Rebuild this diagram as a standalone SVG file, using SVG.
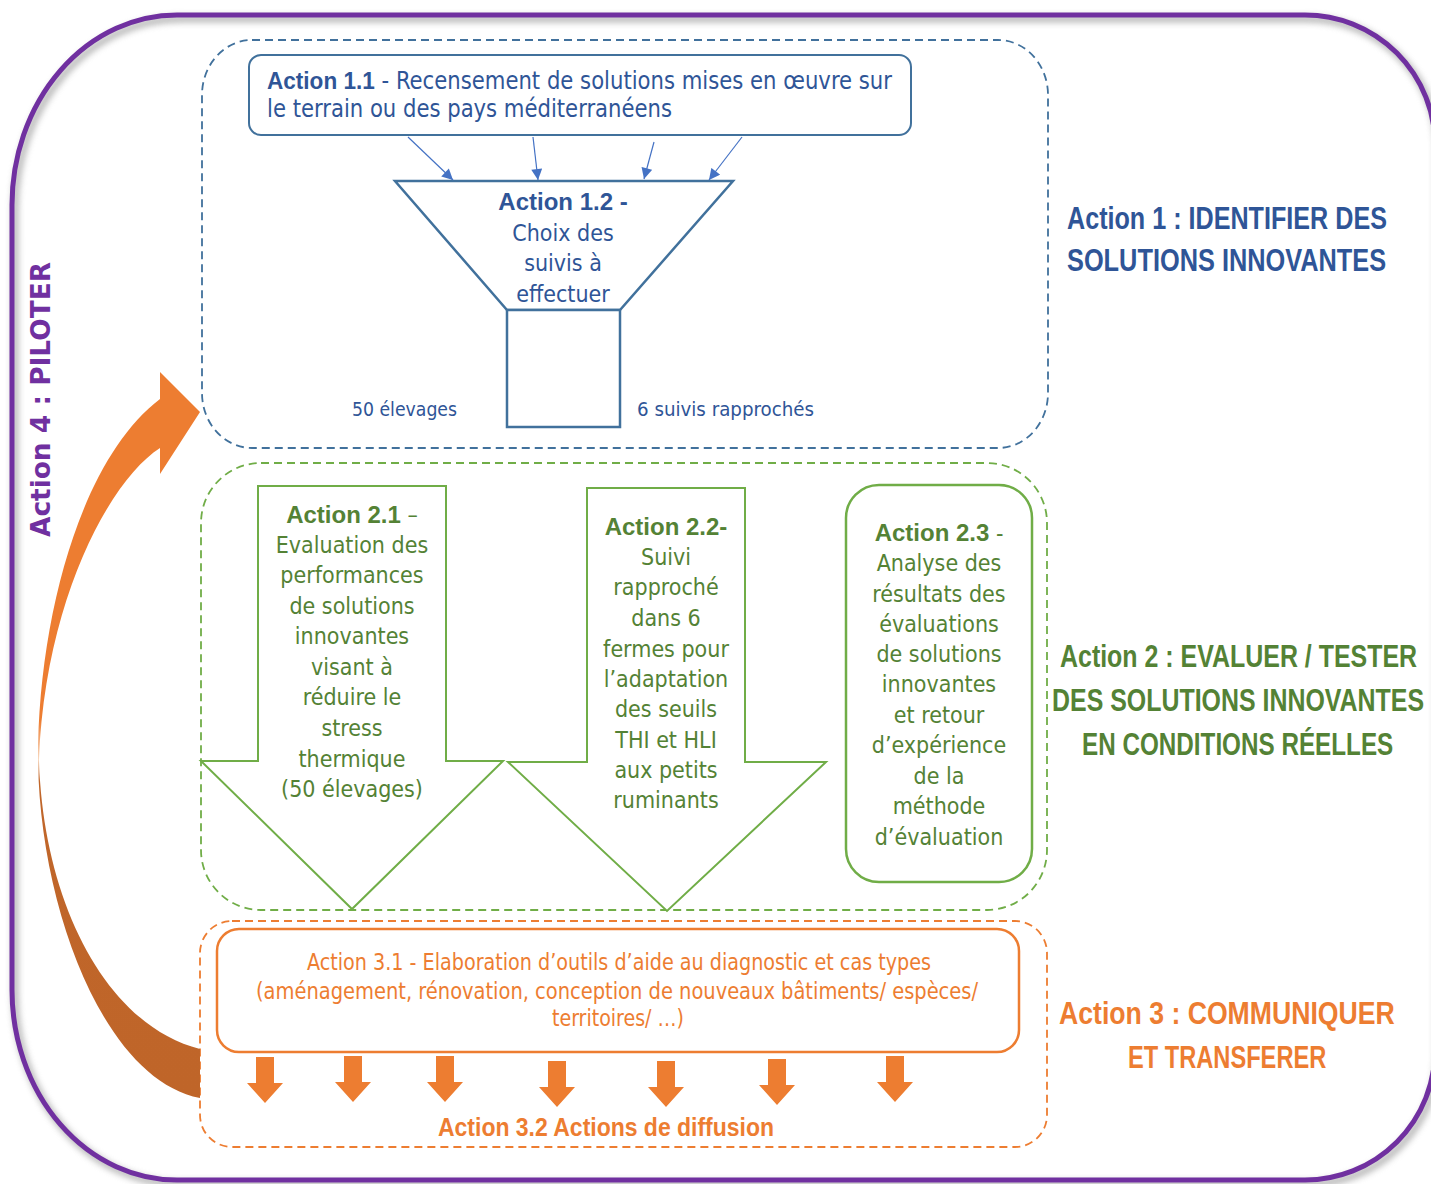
<svg xmlns="http://www.w3.org/2000/svg" width="1431" height="1184" viewBox="0 0 1431 1184">
<style>
.body{font-family:"DejaVu Sans Condensed","DejaVu Sans",sans-serif;font-stretch:condensed;}
.hd{font-family:"Liberation Sans",Arial,sans-serif;font-weight:bold;}
.blue{fill:#2F5597;}
.green{fill:#548235;}
.orange{fill:#ED7D31;}
.dash{fill:none;stroke-width:1.8;stroke-dasharray:8 5;}
.c{text-anchor:middle;}
</style>
<defs>
<marker id="ah" viewBox="0 0 10 10" refX="10" refY="5" markerWidth="12" markerHeight="11" markerUnits="userSpaceOnUse" orient="auto">
<path d="M0,0 L10,5 L0,10 Z" fill="#4472C4"/>
</marker>
<linearGradient id="bigArrow" gradientUnits="userSpaceOnUse" x1="0" y1="372" x2="0" y2="1098">
<stop offset="0" stop-color="#ED7D31"/>
<stop offset="0.48" stop-color="#ED7D31"/>
<stop offset="0.534" stop-color="#F8D9C0"/>
<stop offset="0.565" stop-color="#C0662A"/>
<stop offset="1" stop-color="#BF6529"/>
</linearGradient>
<filter id="sh" x="-5%" y="-5%" width="110%" height="110%">
<feGaussianBlur stdDeviation="3"/>
</filter>
<path id="sa" d="M -9,0 H 9 V 26 H 18 L 0,46 L -18,26 H -9 Z" fill="#ED7D31"/>
</defs>

<rect width="1431" height="1184" fill="#ffffff"/>

<!-- outer frame -->
<g id="frame">
<path d="M 177,15 L 1305,15 A 130,130 0 0 1 1435,145 L 1435,1050 A 130,130 0 0 1 1305,1180 L 177,1180 A 165,190 0 0 1 12,990 L 12,205 A 165,190 0 0 1 177,15 Z" fill="none" stroke="#8a8a8a" stroke-width="7" opacity="0.6" filter="url(#sh)" transform="translate(3,4)"/>
<path d="M 177,15 L 1305,15 A 130,130 0 0 1 1435,145 L 1435,1050 A 130,130 0 0 1 1305,1180 L 177,1180 A 165,190 0 0 1 12,990 L 12,205 A 165,190 0 0 1 177,15 Z" fill="none" stroke="#7030A0" stroke-width="5"/>
</g>

<!-- group boxes -->
<g id="group1">
<rect class="dash" x="202" y="40" width="846" height="408" rx="50" ry="55" stroke="#41719C"/>
<text class="hd blue" transform="translate(1067,229) scale(0.79,1)" font-size="32" textLength="405" lengthAdjust="spacingAndGlyphs">Action 1 : IDENTIFIER DES</text>
<text class="hd blue" transform="translate(1067,271) scale(0.79,1)" font-size="32" textLength="404" lengthAdjust="spacingAndGlyphs">SOLUTIONS INNOVANTES</text>
</g>
<g id="group2">
<rect class="dash" x="201" y="463" width="846" height="447" rx="60" stroke="#70AD47"/>
<text class="hd green" transform="translate(1060,667) scale(0.79,1)" font-size="32" textLength="452" lengthAdjust="spacingAndGlyphs">Action 2 : EVALUER / TESTER</text>
<text class="hd green" transform="translate(1052,711) scale(0.79,1)" font-size="32" textLength="471" lengthAdjust="spacingAndGlyphs">DES SOLUTIONS INNOVANTES</text>
<text class="hd green" transform="translate(1082,755) scale(0.79,1)" font-size="32" textLength="394" lengthAdjust="spacingAndGlyphs">EN CONDITIONS RÉELLES</text>
</g>
<g id="group3">
<rect class="dash" x="200" y="921" width="847" height="226" rx="32" stroke="#ED7D31"/>
<text class="hd orange" transform="translate(1059,1024) scale(0.79,1)" font-size="32" textLength="425" lengthAdjust="spacingAndGlyphs">Action 3 : COMMUNIQUER</text>
<text class="hd orange" transform="translate(1128,1068) scale(0.79,1)" font-size="32" textLength="251" lengthAdjust="spacingAndGlyphs">ET TRANSFERER</text>
</g>

<!-- Action 4 -->
<g id="action4">
<path d="M 160,399 L 160,372 L 200,412 L 160,474 L 160,448 C 110,480 45,600 39,760 C 43,900 105,1025 200,1049 L 200,1098 C 105,1080 40,910 38,760 C 38,620 80,460 160,399 Z" fill="url(#bigArrow)"/>
<text x="0" y="0" transform="translate(50,537) rotate(-90)" font-family="'DejaVu Sans',Verdana,sans-serif" font-weight="bold" font-size="26" fill="#7030A0" textLength="275" lengthAdjust="spacingAndGlyphs">Action 4 : PILOTER</text>
</g>

<!-- Action 1.1 -->
<g id="action11">
<rect x="249" y="55" width="662" height="80" rx="12" fill="#ffffff" stroke="#41719C" stroke-width="2"/>
<text class="body blue" x="267" y="89" font-size="24" textLength="625" lengthAdjust="spacingAndGlyphs"><tspan class="hd" font-size="23">Action 1.1</tspan> - Recensement de solutions mises en œuvre sur</text>
<text class="body blue" x="267" y="117" font-size="24" textLength="405" lengthAdjust="spacingAndGlyphs">le terrain ou des pays méditerranéens</text>
</g>

<!-- Action 1.2 funnel -->
<g id="action12">
<polygon points="395,181 733,181 620,310 507,310" fill="#ffffff" stroke="#41719C" stroke-width="2.5"/>
<rect x="507" y="310" width="113" height="117" fill="#ffffff" stroke="#41719C" stroke-width="2.5"/>
<text class="hd blue c" x="563" y="210" font-size="24">Action 1.2 -</text>
<text class="body blue c" x="563" y="241" font-size="23">Choix des</text>
<text class="body blue c" x="563" y="271" font-size="23">suivis à</text>
<text class="body blue c" x="563" y="302" font-size="23">effectuer</text>
</g>
<g id="label50">
<text class="body blue" x="352" y="416" font-size="20" textLength="105" lengthAdjust="spacingAndGlyphs">50 élevages</text>
</g>
<g id="label6">
<text class="body blue" x="637" y="416" font-size="20" textLength="177" lengthAdjust="spacingAndGlyphs">6 suivis rapprochés</text>
</g>

<!-- Action 2.1 -->
<g id="action21">
<polygon points="258,486 446,486 446,761 503,761 352,909 201,761 258,761" fill="#ffffff" stroke="#70AD47" stroke-width="2"/>
<text class="body green c" x="352" y="523" font-size="23"><tspan class="hd" font-size="24">Action 2.1</tspan> –</text>
<text class="body green c" x="352" y="553" font-size="23">Evaluation des</text>
<text class="body green c" x="352" y="583" font-size="23">performances</text>
<text class="body green c" x="352" y="614" font-size="23">de solutions</text>
<text class="body green c" x="352" y="644" font-size="23">innovantes</text>
<text class="body green c" x="352" y="675" font-size="23">visant à</text>
<text class="body green c" x="352" y="705" font-size="23">réduire le</text>
<text class="body green c" x="352" y="736" font-size="23">stress</text>
<text class="body green c" x="352" y="767" font-size="23">thermique</text>
<text class="body green c" x="352" y="797" font-size="23">(50 élevages)</text>
</g>

<!-- Action 2.2 -->
<g id="action22">
<polygon points="587,488 745,488 745,762 826,762 667,911 508,762 587,762" fill="#ffffff" stroke="#70AD47" stroke-width="2"/>
<text class="hd green c" x="666" y="535" font-size="24">Action 2.2-</text>
<text class="body green c" x="666" y="565" font-size="23">Suivi</text>
<text class="body green c" x="666" y="595" font-size="23">rapproché</text>
<text class="body green c" x="666" y="626" font-size="23">dans 6</text>
<text class="body green c" x="666" y="657" font-size="23">fermes pour</text>
<text class="body green c" x="666" y="687" font-size="23">l’adaptation</text>
<text class="body green c" x="666" y="717" font-size="23">des seuils</text>
<text class="body green c" x="666" y="748" font-size="23">THI et HLI</text>
<text class="body green c" x="666" y="778" font-size="23">aux petits</text>
<text class="body green c" x="666" y="808" font-size="23">ruminants</text>
</g>

<!-- Action 2.3 -->
<g id="action23">
<rect x="846" y="485" width="186" height="397" rx="33" fill="#ffffff" stroke="#70AD47" stroke-width="2.5"/>
<text class="body green c" x="939" y="541" font-size="23"><tspan class="hd" font-size="24">Action 2.3</tspan> -</text>
<text class="body green c" x="939" y="571" font-size="23">Analyse des</text>
<text class="body green c" x="939" y="602" font-size="23">résultats des</text>
<text class="body green c" x="939" y="632" font-size="23">évaluations</text>
<text class="body green c" x="939" y="662" font-size="23">de solutions</text>
<text class="body green c" x="939" y="692" font-size="23">innovantes</text>
<text class="body green c" x="939" y="723" font-size="23">et retour</text>
<text class="body green c" x="939" y="753" font-size="23">d’expérience</text>
<text class="body green c" x="939" y="784" font-size="23">de la</text>
<text class="body green c" x="939" y="814" font-size="23">méthode</text>
<text class="body green c" x="939" y="845" font-size="23">d’évaluation</text>
</g>

<!-- Action 3.1 -->
<g id="action31">
<rect x="217" y="929" width="802" height="123" rx="22" fill="#ffffff" stroke="#ED7D31" stroke-width="2.5"/>
<text class="body orange" x="307" y="970" font-size="23" textLength="624" lengthAdjust="spacingAndGlyphs">Action 3.1 - Elaboration d’outils d’aide au diagnostic et cas types</text>
<text class="body orange" x="256" y="999" font-size="23" textLength="722" lengthAdjust="spacingAndGlyphs">(aménagement, rénovation, conception de nouveaux bâtiments/ espèces/</text>
<text class="body orange" x="552" y="1026" font-size="23" textLength="132" lengthAdjust="spacingAndGlyphs">territoires/ …)</text>
</g>

<!-- Action 3.2 -->
<g id="action32">
<use href="#sa" transform="translate(265,1057)"/>
<use href="#sa" transform="translate(353,1056)"/>
<use href="#sa" transform="translate(445,1056)"/>
<use href="#sa" transform="translate(557,1061)"/>
<use href="#sa" transform="translate(666,1061)"/>
<use href="#sa" transform="translate(777,1059)"/>
<use href="#sa" transform="translate(895,1056)"/>
<text class="hd orange" x="438" y="1136" font-size="25" textLength="336" lengthAdjust="spacingAndGlyphs">Action 3.2 Actions de diffusion</text>
</g>

<!-- connectors -->
<g id="connectors" stroke="#4472C4" stroke-width="1.2" fill="none">
<line x1="408" y1="137" x2="453" y2="180" marker-end="url(#ah)"/>
<line x1="533" y1="137" x2="538" y2="180" marker-end="url(#ah)"/>
<line x1="654" y1="142" x2="644" y2="179" marker-end="url(#ah)"/>
<line x1="742" y1="137" x2="709" y2="180" marker-end="url(#ah)"/>
</g>
</svg>
